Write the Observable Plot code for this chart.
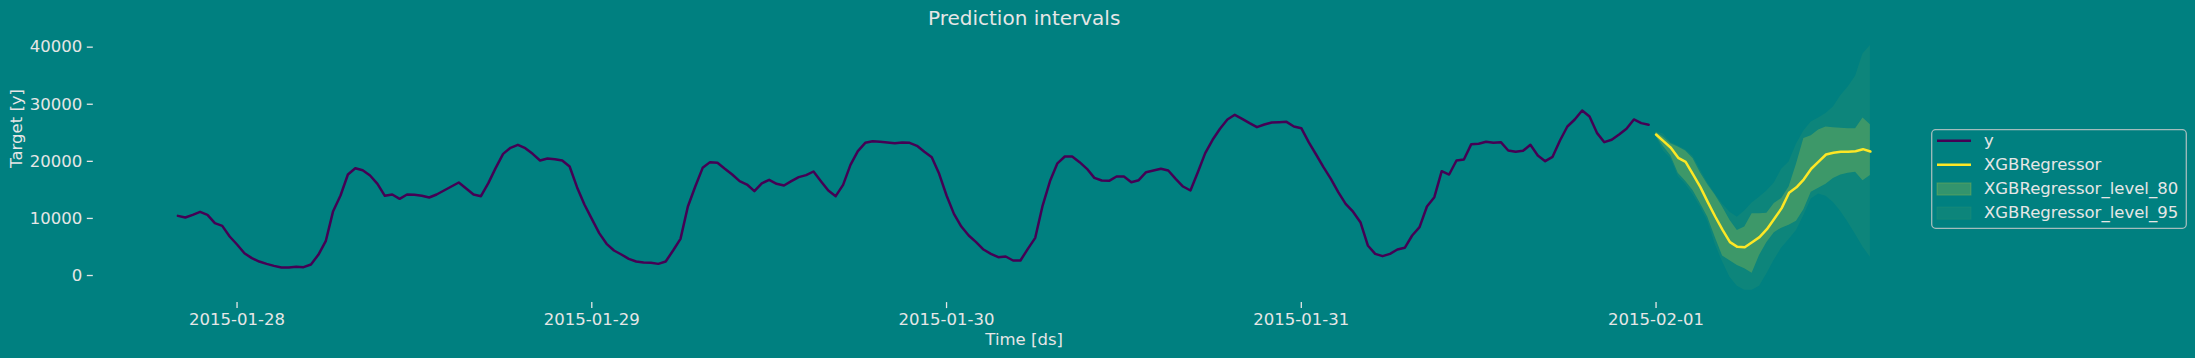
<!DOCTYPE html>
<html>
<head>
<meta charset="utf-8">
<script src="https://cdn.jsdelivr.net/npm/d3@7"></script>
<script src="https://cdn.jsdelivr.net/npm/@observablehq/plot@0.6"></script>
<style>
  html, body { margin: 0; padding: 0; background: #008080; }
  #wrap { position: relative; width: 2195px; height: 358px; overflow: hidden; background: #008080; }
  #legend { position: absolute; left: 1931px; top: 129px; width: 256px; height: 100px; }
</style>
</head>
<body>
<div id="wrap"></div>
<script>
// ---------- data ----------
const historyStart = "2015-01-27T20:00:00Z";   // first observed timestamp
const forecastStart = "2015-02-01T00:00:00Z";  // first forecast timestamp
const stepMinutes = 30;                         // half-hourly series

const yValues = [
  10450, 10160, 10630, 11150, 10630, 9170, 8700, 6830, 5430, 3910,
  3040, 2450, 2040, 1690, 1400, 1400, 1520, 1460, 1930, 3620,
  6010, 11270, 14020, 17690, 18800, 18450, 17520, 16060, 13960, 14190,
  13430, 14190, 14130, 13960, 13670, 14190, 14890, 15590, 16290, 15250,
  14190, 13900, 16180, 18860, 21310, 22370, 22890, 22310, 21310, 20150,
  20500, 20380, 20150, 19100, 15480, 12440, 9930, 7420, 5550, 4380,
  3680, 2920, 2450, 2280, 2220, 2040, 2450, 4380, 6420, 12090,
  15590, 18860, 19860, 19740, 18690, 17690, 16530, 15940, 14770, 16150,
  16760, 16060, 15770, 16530, 17230, 17580, 18220, 16530, 14890, 13900,
  15880, 19390, 21780, 23240, 23530, 23420, 23300, 23180, 23300, 23240,
  22720, 21670, 20730, 17810, 14020, 10800, 8580, 7010, 5840, 4550,
  3800, 3210, 3330, 2630, 2630, 4670, 6600, 12260, 16550, 19650,
  20850, 20850, 19860, 18690, 17110, 16640, 16580, 17340, 17340, 16350,
  16700, 18100, 18400, 18690, 18400, 16940, 15590, 14890, 18100, 21430,
  23770, 25700, 27330, 28150, 27450, 26690, 25990, 26450, 26800, 26860,
  26920, 26100, 25810, 23360, 21200, 18980, 16940, 14600, 12560, 11180,
  9340, 5260, 3800, 3390, 3800, 4550, 4850, 7010, 8470, 12090,
  13720, 18280, 17690, 20150, 20320, 23010, 23070, 23420, 23240, 23360,
  21900, 21670, 21840, 22890, 21020, 20030, 20790, 23650, 26100, 27330,
  28910, 27860, 24990, 23360, 23770, 24700, 25700, 27330, 26690, 26400
];

const xgbValues = [
  24700, 23530, 22370, 20610, 19900, 17700, 15480, 12850, 10340, 8000,
  5840, 5020, 4960, 5840, 6720, 8120, 9930, 11800, 14500, 15450,
  16850, 18700, 19950, 21200, 21500, 21670, 21700, 21780, 22130, 21720
];
const lo80Values = [
  24400, 22600, 21000, 17900, 16500, 14900, 12600, 10200, 6700, 3400,
  2600, 1750, 1200, 400, 3500, 5800, 7500, 8300, 8800, 9500,
  11500, 14600, 15300, 16000, 17000, 17600, 17900, 18100, 16600, 17500
];
const hi80Values = [
  25100, 24200, 23100, 22500, 21800, 20500, 18000, 15900, 14100, 12000,
  9700, 7900, 8500, 10800, 10800, 10900, 12600, 13500, 15500, 19500,
  24000, 24500, 25500, 26000, 25900, 25800, 25700, 25700, 27600, 26400
];
const lo95Values = [
  24300, 21800, 20500, 17400, 16000, 14200, 12000, 9500, 5500, 2400,
  -300, -1900, -2600, -2600, -1900, 300, 2700, 4800, 6300, 7900,
  10500, 13400, 14300, 13900, 12800, 11200, 9300, 7200, 5000, 3200
];
const hi95Values = [
  25200, 24800, 23300, 22700, 22000, 20900, 18500, 16200, 14300, 12500,
  11100, 10200, 11300, 12700, 13700, 14800, 16200, 18600, 19900, 23000,
  25300, 26900, 27600, 28400, 29500, 31500, 33000, 34900, 38800, 40300
];

const xTickLabels = ["2015-01-28", "2015-01-29", "2015-01-30", "2015-01-31", "2015-02-01"];
const yTickValues = [0, 10000, 20000, 30000, 40000];
const seriesNames = ["y", "XGBRegressor", "XGBRegressor_level_80", "XGBRegressor_level_95"];
const titleText = "Prediction intervals";
const xLabelText = "Time [ds]";
const yLabelText = "Target [y]";

// ---------- styling ----------
const bg = "#008080";
const textColor = "#e6e6e6";
const yColor = "#440154";
const xgbColor = "#fde725";
const font = "DejaVu Sans, sans-serif";

// ---------- build tables ----------
const step = stepMinutes * 60 * 1000;
const t0 = Date.parse(historyStart);
const f0 = Date.parse(forecastStart);
const history = yValues.map((v, i) => ({ds: new Date(t0 + i * step), y: v}));
const forecast = xgbValues.map((v, j) => ({
  ds: new Date(f0 + j * step), yhat: v,
  lo80: lo80Values[j], hi80: hi80Values[j], lo95: lo95Values[j], hi95: hi95Values[j]
}));

// matplotlib-like 5% margins
const xMin = +history[0].ds, xMax = +forecast[forecast.length - 1].ds;
const xPad = (xMax - xMin) * 0.05;
const xDomain = [new Date(xMin - xPad), new Date(xMax + xPad)];
const allY = [...yValues, ...xgbValues, ...lo95Values, ...hi95Values];
const yMin = d3.min(allY), yMax = d3.max(allY);
const yPad = (yMax - yMin) * 0.05;
const yDomain = [yMin - yPad, yMax + yPad];

const xTicks = xTickLabels.map(s => new Date(s + "T00:00:00Z"));

const chart = Plot.plot({
  width: 2195,
  height: 358,
  marginLeft: 92.8,
  marginRight: 240.5,
  marginTop: 32.7,
  marginBottom: 55.9,
  style: {background: bg, color: textColor, fontFamily: font, fontSize: "16.5px", overflow: "visible"},
  x: {type: "utc", domain: xDomain},
  y: {domain: yDomain},
  marks: [
    Plot.areaY(forecast, {x: "ds", y1: "lo95", y2: "hi95", fill: xgbColor, fillOpacity: 0.05}),
    Plot.areaY(forecast, {x: "ds", y1: "lo80", y2: "hi80", fill: xgbColor, fillOpacity: 0.2}),
    Plot.lineY(history, {x: "ds", y: "y", stroke: yColor, strokeWidth: 2.5}),
    Plot.lineY(forecast, {x: "ds", y: "yhat", stroke: xgbColor, strokeWidth: 2.5}),
    Plot.axisX({ticks: xTicks, tickFormat: d3.utcFormat("%Y-%m-%d"), tickSize: 6, tickPadding: 5,
                label: null, strokeWidth: 1.3, fontSize: 16.5}),
    Plot.axisY({ticks: yTickValues, tickFormat: d => String(d), tickSize: 6, tickPadding: 5,
                label: null, strokeWidth: 1.3, fontSize: 16.5}),
    Plot.text([titleText], {text: d => d, frameAnchor: "top", dy: -14.4, lineAnchor: "middle", fontSize: 20, fill: textColor}),
    Plot.text([xLabelText], {text: d => d, frameAnchor: "bottom", dy: 37, lineAnchor: "middle", fontSize: 16.5, fill: textColor}),
    Plot.text([yLabelText], {text: d => d, frameAnchor: "left", dx: -76.8, rotate: -90, lineAnchor: "middle", fontSize: 16.5, fill: textColor})
  ]
});

const wrap = document.getElementById("wrap");
wrap.appendChild(chart);

// ---------- legend ----------
const legend = document.createElement("div");
legend.id = "legend";
const lw = 256, lh = 100;
const svg = d3.create("svg").attr("width", lw).attr("height", lh)
  .style("font-family", font).style("font-size", "16.5px").style("display", "block");
svg.append("rect").attr("x", 0.7).attr("y", 0.7).attr("width", lw - 1.4).attr("height", lh - 1.4)
  .attr("rx", 4).attr("fill", bg).attr("fill-opacity", 0.8)
  .attr("stroke", "#cccccc").attr("stroke-opacity", 0.8).attr("stroke-width", 1.3);
const rowY = [11.7, 35.8, 60, 84.1];
const kinds = [
  {type: "line", color: yColor},
  {type: "line", color: xgbColor},
  {type: "patch", color: xgbColor, op: 0.2},
  {type: "patch", color: xgbColor, op: 0.05}
];
seriesNames.forEach((name, k) => {
  const cy = rowY[k];
  const kind = kinds[k];
  if (kind.type === "line") {
    svg.append("line").attr("x1", 6).attr("x2", 40).attr("y1", cy).attr("y2", cy)
      .attr("stroke", kind.color).attr("stroke-width", 2.5);
  } else {
    svg.append("rect").attr("x", 6).attr("y", cy - 6.1).attr("width", 34).attr("height", 12.2)
      .attr("fill", kind.color).attr("fill-opacity", kind.op)
      .attr("stroke", kind.color).attr("stroke-opacity", kind.op);
  }
  svg.append("text").attr("x", 53).attr("y", cy).attr("dy", "0.32em")
    .attr("fill", textColor).text(name);
});
legend.appendChild(svg.node());
wrap.appendChild(legend);
</script>
</body>
</html>
